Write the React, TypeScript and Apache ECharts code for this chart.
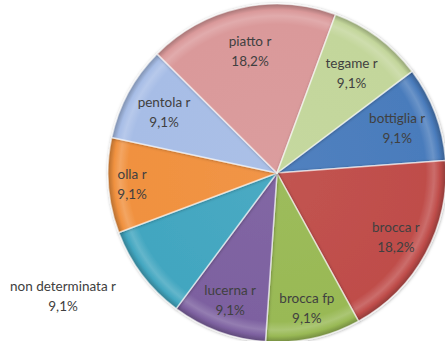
import React, { useEffect, useRef } from "react";
import * as echarts from "echarts";

const categories = [
  "bottiglia r",
  "brocca r",
  "brocca fp",
  "lucerna r",
  "non determinata r",
  "olla r",
  "pentola r",
  "piatto r",
  "tegame r",
];
const values = [1, 2, 1, 1, 1, 1, 1, 2, 1];
const colors = [
  "#4a7cbc",
  "#bf4d4a",
  "#99b955",
  "#7d61a0",
  "#42a6c0",
  "#f0913f",
  "#a7bde6",
  "#da999a",
  "#c3d69b",
];

const W = 445;
const H = 341;
const CX = 277;
const CY = 173;
const R = 169;
const START = 37;

function shade(hex: string, f: number): string {
  const n = parseInt(hex.slice(1), 16);
  let r = (n >> 16) & 255, g = (n >> 8) & 255, b = n & 255;
  const adj = (c: number) => (f >= 0 ? Math.round(c + (255 - c) * f) : Math.round(c * (1 + f)));
  r = adj(r); g = adj(g); b = adj(b);
  return "#" + ((1 << 24) | (r << 16) | (g << 8) | b).toString(16).slice(1);
}

export default function App() {
  const ref = useRef<HTMLDivElement>(null);
  useEffect(() => {
    if (!ref.current) return;
    const chart = echarts.init(ref.current, undefined, { renderer: "svg" });
    const total = values.reduce((a, b) => a + b, 0);
    const mids: number[] = [];
    let acc = 0;
    values.forEach((v) => {
      const a0 = START - (acc / total) * 360;
      acc += v;
      const a1 = START - (acc / total) * 360;
      mids.push(((a0 + a1) / 2) * (Math.PI / 180));
    });
    const labelRatio = [0.76, 0.8, 0.82, 0.8, 0.8, 0.86, 0.76, 0.74, 0.74];
    const data = categories.map((name, i) => ({
      name,
      value: values[i],
      itemStyle: {
        color: new echarts.graphic.RadialGradient(
          CX,
          CY,
          R,
          [
            { offset: 0, color: shade(colors[i], 0.04) },
            { offset: 0.88, color: colors[i] },
            { offset: 0.93, color: shade(colors[i], 0.18) },
            { offset: 0.965, color: colors[i] },
            { offset: 1, color: shade(colors[i], -0.25) },
          ],
          true
        ),
        shadowBlur: 3,
        shadowColor: "rgba(0,0,0,0.35)",
        shadowOffsetX: 0.5,
        shadowOffsetY: 0.5,
      },
    }));
    chart.setOption({
      animation: false,
      backgroundColor: "#ffffff",
      series: [
        {
          type: "pie",
          center: [CX, CY],
          radius: [0, R],
          startAngle: START,
          clockwise: true,
          data,
          itemStyle: {
            borderColor: "rgba(255,255,255,0.6)",
            borderWidth: 1.5,
          },
          label: {
            show: true,
            position: "inside",
            formatter: (p: any) => `${p.name}\n${p.percent.toFixed(1).replace(".", ",")}%`,
            color: "#404040",
            fontFamily: "Lato, 'Open Sans', sans-serif",
            fontSize: 13.5,
            lineHeight: 20,
            align: "center",
            verticalAlign: "middle",
          },
          labelLine: { show: false },
          labelLayout: (p: any) => {
            const i = p.dataIndex;
            if (categories[i] === "non determinata r") {
              return { x: 63, y: 296, align: "center", verticalAlign: "middle" };
            }
            const a = mids[i];
            const r = R * labelRatio[i];
            return {
              x: CX + Math.cos(a) * r,
              y: CY - Math.sin(a) * r,
              align: "center",
              verticalAlign: "middle",
            };
          },
        },
      ],
    });
    return () => chart.dispose();
  }, []);
  return (
    <div
      ref={ref}
      style={{ position: "absolute", left: 0, top: 0, width: W, height: H }}
    />
  );
}
